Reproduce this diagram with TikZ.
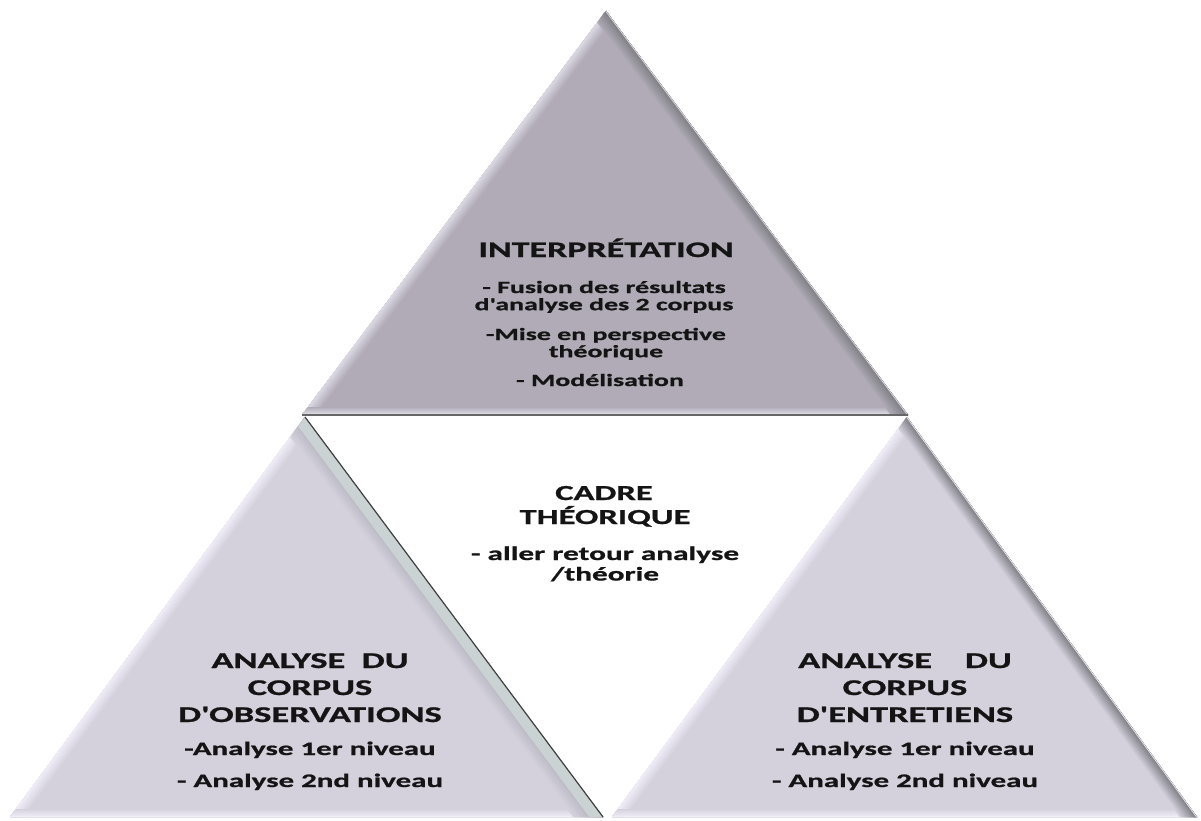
\documentclass[tikz,border=0pt]{standalone}
\usepackage{fontspec}
\setmainfont{Carlito}[FakeStretch=1.62,FakeBold=1,Ligatures=TeXOff]
\definecolor{topfill}{RGB}{176,171,182}
\definecolor{botfill}{RGB}{212,209,221}
\definecolor{darkbev}{RGB}{128,128,134}
\definecolor{lightbev}{RGB}{238,236,246}
\definecolor{tealbev}{RGB}{202,210,211}
\definecolor{shadowbev}{RGB}{170,170,178}
\definecolor{txt}{RGB}{20,20,20}
\newcommand\bevelEdge[5]{% from, to, edge colour, fill colour, half width
  \foreach \i in {0,...,12}{%
    \pgfmathsetmacro\w{2*#5*(13-\i)/13}%
    \pgfmathtruncatemacro\p{\i*100/12}%
    \draw[line width=\w pt,#3!\p!#4,shorten <=-40pt,shorten >=-40pt] (#1)--(#2);
  }}
\newcommand\twoLines[2]{\begin{tabular}[t]{@{}c@{}}#1\\#2\end{tabular}}
\tikzset{
  lbl/.style={anchor=base,inner sep=0pt,text=txt},
  tophead/.style={lbl,font=\bfseries\fontsize{22.2}{26}\selectfont},
  topitem/.style={lbl,font=\bfseries\fontsize{17.2}{17}\selectfont},
  midhead/.style={lbl,font=\bfseries\fontsize{21.4}{26}\selectfont},
  miditem/.style={lbl,font=\bfseries\fontsize{19.3}{20.5}\selectfont},
  bothead/.style={lbl,font=\bfseries\fontsize{22.5}{26}\selectfont},
  botitem/.style={lbl,font=\bfseries\fontsize{19.1}{24}\selectfont}}
\begin{document}
\begin{tikzpicture}[x=1pt,y=-1pt]
\useasboundingbox[fill=white] (0,0) rectangle (1201,821);
% corner coordinates
\coordinate (TA) at (606,11);
\coordinate (TB) at (302,415);
\coordinate (TC) at (908,415);
\coordinate (LA) at (305,417);
\coordinate (LB) at (10,817);
\coordinate (LC) at (603,817);
\coordinate (RA) at (907,417);
\coordinate (RB) at (612,817);
\coordinate (RC) at (1197,817);
% top triangle
\begin{scope}
\clip (TA)--(TB)--(TC)--cycle;
\fill[topfill] (TA)--(TB)--(TC)--cycle;
\bevelEdge{TA}{TB}{lightbev!70!topfill}{topfill}{12}
\bevelEdge{TB}{TC}{lightbev!80!topfill}{topfill}{8}
\bevelEdge{TA}{TC}{darkbev}{topfill}{14}
\draw[line width=1.5pt,white!60!topfill] (TA)--(TC);
\end{scope}
% bottom left triangle
\begin{scope}
\clip (LA)--(LB)--(LC)--cycle;
\fill[botfill] (LA)--(LB)--(LC)--cycle;
\bevelEdge{LA}{LB}{lightbev}{botfill}{12}
\bevelEdge{LB}{LC}{lightbev}{botfill}{8}
\bevelEdge{LA}{LC}{shadowbev}{botfill}{24}
\draw[line width=22pt,tealbev] (LA)--(LC);
\end{scope}
\draw[line width=1.2pt,black!75] (LA)--(LC);
% bottom right triangle
\begin{scope}
\clip (RA)--(RB)--(RC)--cycle;
\fill[botfill] (RA)--(RB)--(RC)--cycle;
\bevelEdge{RA}{RB}{lightbev}{botfill}{12}
\bevelEdge{RB}{RC}{lightbev}{botfill}{8}
\bevelEdge{RA}{RC}{darkbev}{botfill}{14}
\draw[line width=1.5pt,white!60!botfill] (RA)--(RC);
\end{scope}
% base line of top triangle
\draw[line width=1.2pt,black!60] (TB)--(TC);
% texts: top
\node[tophead] (t1) at (606,257) {INTERPRÉTATION};
\node[topitem] (t2) at (604,293) {\twoLines{- Fusion des résultats}{d'analyse des 2 corpus}};
\node[topitem] (t3) at (606,340) {\twoLines{-Mise en perspective}{théorique}};
\node[topitem] (t4) at (600,386) {- Modélisation};
% middle
\node[midhead] (m1) at (604,500) {CADRE};
\node[midhead] (m2) at (605,524) {THÉORIQUE};
\node[miditem] (m3) at (605,560) {\twoLines{- aller retour analyse}{/théorie}};
% left
\node[bothead] (l1) at (310,668) {ANALYSE\ \ DU};
\node[bothead] (l2) at (310,695) {CORPUS};
\node[bothead] (l3) at (310,722) {D'OBSERVATIONS};
\node[botitem] (l4) at (310,755) {-Analyse 1er niveau};
\node[botitem] (l5) at (310,787) {- Analyse 2nd niveau};
% right
\node[bothead] (r1) at (905,668) {ANALYSE\ \ \ \ DU};
\node[bothead] (r2) at (905,695) {CORPUS};
\node[bothead] (r3) at (905,722) {D'ENTRETIENS};
\node[botitem] (r4) at (905,755) {- Analyse 1er niveau};
\node[botitem] (r5) at (905,787) {- Analyse 2nd niveau};
\end{tikzpicture}
\end{document}
